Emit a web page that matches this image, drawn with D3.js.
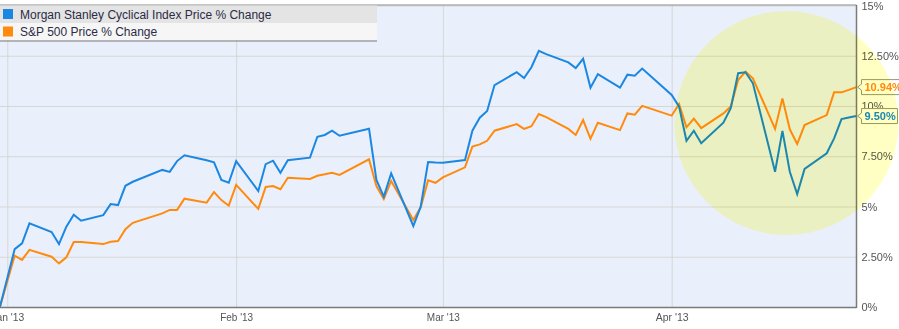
<!DOCTYPE html>
<html>
<head>
<meta charset="utf-8">
<script src="https://cdn.jsdelivr.net/npm/d3@7"></script>
<style>
  body { margin: 0; background: #fff; }
  svg { display: block; font-family: Arial, "Liberation Sans", sans-serif; }
</style>
</head>
<body>
<svg id="chart" width="899" height="329"></svg>
<script>
// trading days, Dec 31 2012 .. Apr 26 2013
const dates = [
  "2012-12-31",
  "2013-01-02","2013-01-03","2013-01-04","2013-01-07","2013-01-08","2013-01-09","2013-01-10","2013-01-11",
  "2013-01-14","2013-01-15","2013-01-16","2013-01-17","2013-01-18","2013-01-22","2013-01-23","2013-01-24",
  "2013-01-25","2013-01-28","2013-01-29","2013-01-30","2013-01-31",
  "2013-02-01","2013-02-04","2013-02-05","2013-02-06","2013-02-07","2013-02-08","2013-02-11","2013-02-12",
  "2013-02-13","2013-02-14","2013-02-15","2013-02-19","2013-02-20","2013-02-21","2013-02-22","2013-02-25",
  "2013-02-26","2013-02-27","2013-02-28",
  "2013-03-01","2013-03-04","2013-03-05","2013-03-06","2013-03-07","2013-03-08","2013-03-11","2013-03-12",
  "2013-03-13","2013-03-14","2013-03-15","2013-03-18","2013-03-19","2013-03-20","2013-03-21","2013-03-22",
  "2013-03-25","2013-03-26","2013-03-27","2013-03-28",
  "2013-04-01","2013-04-02","2013-04-03","2013-04-04","2013-04-05","2013-04-08","2013-04-09","2013-04-10",
  "2013-04-11","2013-04-12","2013-04-15","2013-04-16","2013-04-17","2013-04-18","2013-04-19","2013-04-22",
  "2013-04-23","2013-04-24","2013-04-25","2013-04-26"
];

// Morgan Stanley Cyclical Index, % change
const cyclical = [
  0,
  2.88, 3.17, 4.16, 3.73, 3.13, 4.00, 4.59, 4.29,
  4.57, 5.12, 5.07, 6.03, 6.23, 6.82, 6.72, 7.26,
  7.55, 7.30, 7.20, 6.32, 6.18,
  7.26, 5.77, 7.11, 7.28, 6.68, 7.30, 7.43, 8.47,
  8.56, 8.77, 8.52, 8.87, 6.32, 5.49, 6.65, 4.03,
  4.99, 7.21, 7.19,
  7.18, 7.31, 8.77, 9.42, 9.75, 11.04, 11.68, 11.39,
  11.93, 12.74, 12.58, 12.17, 11.89, 12.35, 10.91, 11.59,
  10.91, 11.56, 11.51, 11.86,
  10.55, 9.97, 8.27, 8.77, 8.15, 9.17, 9.89, 11.63,
  11.68, 11.13, 6.73, 8.76, 6.73, 5.62, 6.87, 7.65,
  8.39, 9.35, 9.43, 9.50
];

// S&P 500, % change
const sp500 = [
  0,
  2.55, 2.34, 2.84, 2.50, 2.17, 2.47, 3.23, 3.23,
  3.13, 3.25, 3.28, 3.87, 4.19, 4.66, 4.83, 4.83,
  5.39, 5.19, 5.72, 5.32, 5.04,
  6.08, 4.88, 5.97, 6.02, 5.86, 6.43, 6.37, 6.53,
  6.60, 6.68, 6.57, 7.35, 6.02, 5.37, 6.27, 4.33,
  4.96, 6.30, 6.18,
  6.45, 6.95, 7.98, 8.09, 8.27, 8.77, 9.10, 8.86,
  8.99, 9.60, 9.45, 8.86, 8.56, 9.30, 8.37, 9.17,
  8.80, 9.63, 9.57, 10.01,
  9.52, 10.10, 8.94, 9.37, 8.90, 9.63, 9.97, 11.29,
  11.71, 11.38, 8.86, 10.38, 8.84, 8.11, 9.05, 9.55,
  10.68, 10.68, 10.80, 10.94
];

const seriesNames = ["Morgan Stanley Cyclical Index Price % Change", "S&P 500 Price % Change"];
const seriesColors = ["#1b87e3", "#ff8a0d"];
const yTicks = [0, 2.5, 5, 7.5, 10, 12.5, 15];
const yTickLabels = ["0%", "2.50%", "5%", "7.50%", "10%", "12.50%", "15%"];
const xTicks = ["2013-01-01", "2013-02-01", "2013-03-01", "2013-04-01"];
const lastLabels = ["9.50%", "10.94%"];

const parse = d3.utcParse("%Y-%m-%d");
const svg = d3.select("#chart");

const plot = { left: 0, right: 856.5, top: 5.5, bottom: 307 };

const x = d3.scaleUtc()
  .domain([parse("2013-01-01"), parse("2013-04-01")])
  .range([7.3, 671.7]);

const y = d3.scaleLinear()
  .domain([0, 15])
  .range([plot.bottom, plot.top]);

// plot background
svg.append("rect")
  .attr("x", plot.left).attr("y", plot.top)
  .attr("width", plot.right - plot.left).attr("height", plot.bottom - plot.top)
  .attr("fill", "#eaf0fb");

// horizontal grid
svg.append("g")
  .attr("transform", `translate(${plot.left},0)`)
  .call(d3.axisRight(y).tickValues(yTicks).tickSize(plot.right - plot.left).tickFormat(""))
  .call(g => g.select(".domain").remove())
  .call(g => g.selectAll("line").attr("stroke", "#d6d6d6"));

// vertical grid
svg.append("g")
  .attr("transform", `translate(0,${plot.top})`)
  .call(d3.axisBottom(x).tickValues(xTicks.map(parse)).tickSize(plot.bottom - plot.top).tickFormat(""))
  .call(g => g.select(".domain").remove())
  .call(g => g.selectAll("line").attr("stroke", "#d6d6d6"));

// lines
const all = [cyclical, sp500];
const line = d3.line()
  .x((d, i) => x(parse(dates[i])))
  .y(d => y(d));

// draw S&P first, then cyclical on top
[1, 0].forEach(k => {
  svg.append("path")
    .datum(all[k])
    .attr("fill", "none")
    .attr("stroke", seriesColors[k])
    .attr("stroke-width", 2)
    .attr("stroke-linejoin", "miter")
    .attr("d", line);
});

// borders
svg.append("line")
  .attr("x1", plot.left).attr("x2", plot.right)
  .attr("y1", 5).attr("y2", 5)
  .attr("stroke", "#8a8a8a").attr("stroke-width", 1);
svg.append("line")
  .attr("x1", plot.left).attr("x2", plot.right)
  .attr("y1", plot.bottom + 0.5).attr("y2", plot.bottom + 0.5)
  .attr("stroke", "#7a7a7a").attr("stroke-width", 1.5);
svg.append("line")
  .attr("x1", plot.right).attr("x2", plot.right)
  .attr("y1", 5).attr("y2", plot.bottom + 1)
  .attr("stroke", "#7a7a7a").attr("stroke-width", 1.5);

// right axis labels
svg.append("g")
  .attr("transform", `translate(${plot.right},0)`)
  .call(d3.axisRight(y).tickValues(yTicks).tickSize(0).tickPadding(5)
    .tickFormat((d, i) => yTickLabels[i]))
  .call(g => g.select(".domain").remove())
  .call(g => g.selectAll("text")
    .attr("fill", "#555")
    .attr("font-size", 11)
    .attr("font-family", "Arial, 'Liberation Sans', sans-serif"));

// bottom axis labels
svg.append("g")
  .attr("transform", `translate(0,${plot.bottom})`)
  .call(d3.axisBottom(x).tickValues(xTicks.map(parse)).tickSize(0).tickPadding(6)
    .tickFormat(d3.utcFormat("%b '%y")))
  .call(g => g.select(".domain").remove())
  .call(g => g.selectAll("text")
    .attr("fill", "#555")
    .attr("font-size", 11)
    .attr("textLength", 33)
    .attr("lengthAdjust", "spacingAndGlyphs")
    .attr("font-family", "Arial, 'Liberation Sans', sans-serif"));

// end-value labels
[1, 0].forEach(k => {
  const v = all[k][all[k].length - 1];
  const ly = y(v);
  const bx = plot.right + 5;
  const w = k === 1 ? 44 : 36;
  const h = 15;
  const g = svg.append("g");
  g.append("path")
    .attr("d", `M${bx},${ly - h / 2} h${w} v${h} h${-w} v${-(h / 2 - 3)} l-4,-3 l4,-3 Z`)
    .attr("fill", "#fff")
    .attr("stroke", "#999977")
    .attr("stroke-width", 1);
  g.append("text")
    .attr("x", bx + 3)
    .attr("y", ly + 4)
    .attr("font-size", 11)
    .attr("font-weight", "bold")
    .attr("fill", k === 1 ? "#ff8a0d" : "#1b87e3")
    .text(lastLabels[k]);
});

// highlight circle (multiplied over everything beneath)
svg.append("circle")
  .attr("cx", x(parse("2013-04-16")) + 4)
  .attr("cy", y(9.15))
  .attr("r", 112)
  .attr("fill", "#ffffc4")
  .style("mix-blend-mode", "multiply");

// legend
const legend = svg.append("g");
const rowH = 17.5;
seriesNames.forEach((name, i) => {
  const ry = 5.5 + i * rowH;
  legend.append("rect")
    .attr("x", 0).attr("y", ry)
    .attr("width", 377).attr("height", rowH)
    .attr("fill", i === 0 ? "#e4e4e4" : "#f6f6f6");
  legend.append("rect")
    .attr("x", 3).attr("y", ry + 3.5)
    .attr("width", 10).attr("height", 10)
    .attr("fill", seriesColors[i]);
  legend.append("text")
    .attr("x", 20).attr("y", ry + 13)
    .attr("font-size", 12)
    .attr("fill", "#2b2b45")
    .text(name);
});
legend.append("line")
  .attr("x1", 0).attr("x2", 377)
  .attr("y1", 5.5 + 2 * rowH + 0.5).attr("y2", 5.5 + 2 * rowH + 0.5)
  .attr("stroke", "#777").attr("stroke-width", 1);
</script>
</body>
</html>
